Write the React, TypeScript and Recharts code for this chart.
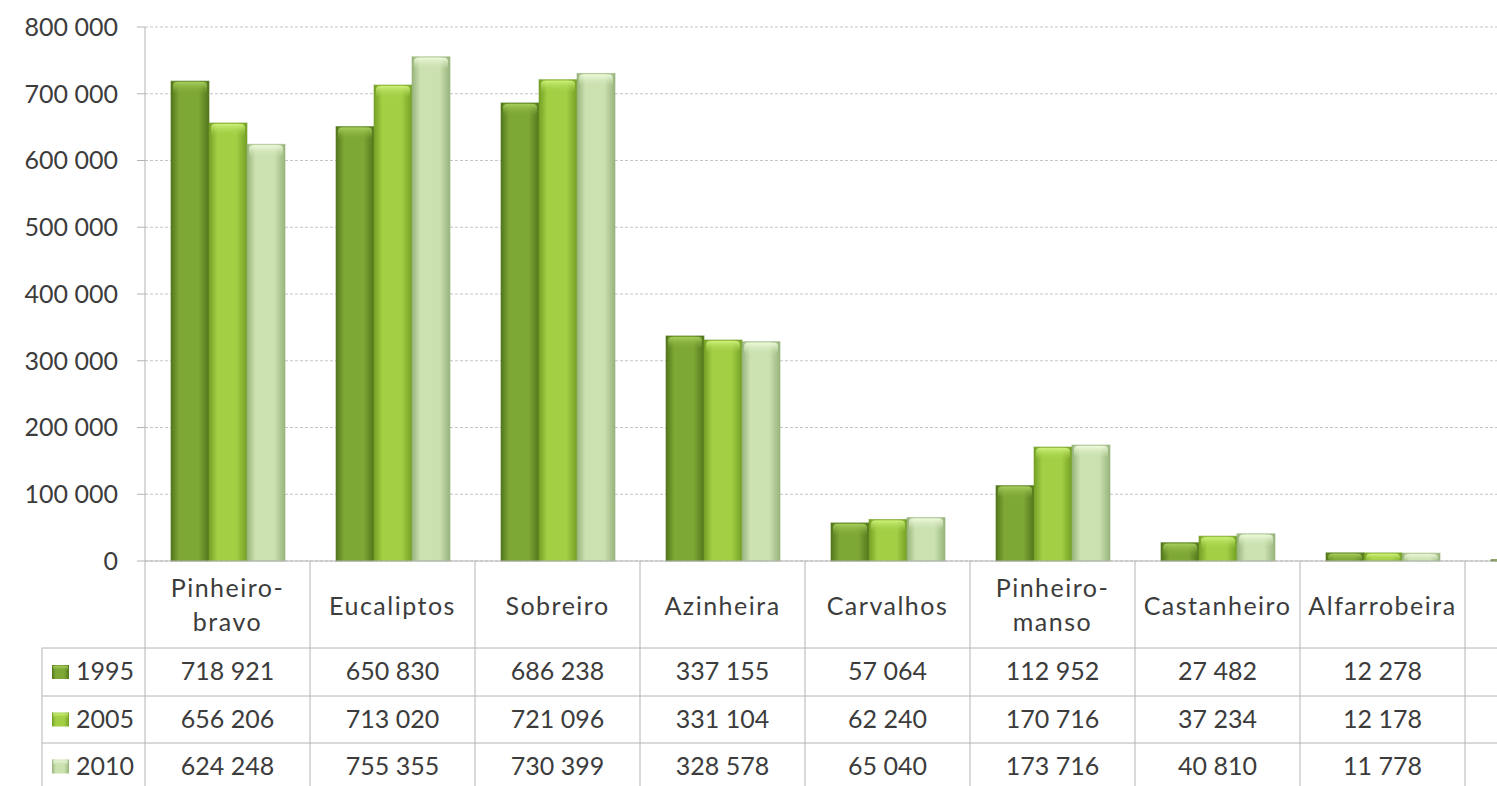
import { BarChart, Bar, XAxis, YAxis, CartesianGrid } from 'recharts'

const categories = ['Pinheiro-bravo', 'Eucaliptos', 'Sobreiro', 'Azinheira', 'Carvalhos', 'Pinheiro-manso', 'Castanheiro', 'Alfarrobeira', 'Acácias']
const years = ['1995', '2005', '2010']
const values1995 = [718921, 650830, 686238, 337155, 57064, 112952, 27482, 12278, 2000]
const values2005 = [656206, 713020, 721096, 331104, 62240, 170716, 37234, 12178, 4000]
const values2010 = [624248, 755355, 730399, 328578, 65040, 173716, 40810, 11778, 5000]
const yTicks = [0, 100000, 200000, 300000, 400000, 500000, 600000, 700000, 800000]

const seriesValues = [values1995, values2005, values2010]

const data = categories.map((name, i) => ({
  name,
  y1995: values1995[i],
  y2005: values2005[i],
  y2010: values2010[i],
}))

const FONT = 'Lato, "Open Sans", sans-serif'
const TEXT = '#3c3c3c'
const LINE = '#b4b4b4'
const COL = 165

// edge / middle colours of the 3 series
const palette = [
  { id: 'g1995', edge: '#52761c', mid: '#7ea836', top: '#a9cf5e' },
  { id: 'g2005', edge: '#74a026', mid: '#a2cf44', top: '#d0f27e' },
  { id: 'g2010', edge: '#98b47c', mid: '#cbe1b0', top: '#f0fbdf' },
]

const fmt = (v: number) => v.toLocaleString('en-US').replace(/,/g, ' ')

function Gradients() {
  return (
    <defs>
      {palette.map(p => (
        <linearGradient key={p.id} id={p.id} x1="0" y1="0" x2="1" y2="0">
          <stop offset="0%" stopColor={p.edge} />
          <stop offset="22%" stopColor={p.mid} />
          <stop offset="72%" stopColor={p.mid} />
          <stop offset="100%" stopColor={p.edge} />
        </linearGradient>
      ))}
      {palette.map(p => (
        <linearGradient key={p.id + 'c'} id={p.id + 'c'} x1="0" y1="0" x2="0" y2="1">
          <stop offset="0%" stopColor={p.top} stopOpacity={0.95} />
          <stop offset="100%" stopColor={p.mid} stopOpacity={0} />
        </linearGradient>
      ))}
    </defs>
  )
}

function makeShape(k: number) {
  return (props: any) => {
    const { x, y, width, height } = props
    if (!height || height <= 0) return <g />
    const cap = Math.min(12, height)
    return (
      <g>
        <rect x={x} y={y} width={width} height={height} fill={`url(#${palette[k].id})`} stroke={palette[k].edge} strokeOpacity={0.6} strokeWidth={1} />
        <rect x={x + 2} y={y + 1} width={width - 4} height={cap} rx={4} fill={`url(#${palette[k].id}c)`} />
      </g>
    )
  }
}

function TableTick(props: any) {
  const { x, y, index } = props
  const name: string = categories[index]
  const half = COL / 2
  const r1 = y + 87
  const r2 = y + 135
  const r3 = y + 182
  const r4 = y + 229
  const rows = [r1, r2, r3]
  const parts = name.includes('-') ? [name.split('-')[0] + '-', name.split('-')[1]] : [name]
  return (
    <g fontFamily={FONT} fill={TEXT}>
      {/* column borders */}
      {index === 0 && <line x1={x - half} x2={x - half} y1={y} y2={r4} stroke={LINE} />}
      <line x1={x + half} x2={x + half} y1={y} y2={r4} stroke={LINE} />
      {[r1, r2, r3].map(r => (
        <line key={r} x1={x - half} x2={x + half} y1={r} y2={r} stroke={LINE} />
      ))}
      {parts.length === 1 ? (
        <text x={x} y={y + 44} textAnchor="middle" dominantBaseline="central" fontSize={25} letterSpacing={1.5}>{parts[0]}</text>
      ) : (
        parts.map((p, j) => (
          <text key={j} x={x} y={y + 26 + j * 34} textAnchor="middle" dominantBaseline="central" fontSize={25} letterSpacing={1.5}>{p}</text>
        ))
      )}
      {seriesValues.map((vals, j) => (
        <text key={j} x={x} y={(rows[j] + (j < 2 ? rows[j + 1] : r4)) / 2 - 2} textAnchor="middle" dominantBaseline="central" fontSize={25}>
          {fmt(vals[index])}
        </text>
      ))}
      {/* legend column */}
      {index === 0 && (
        <g>
          <line x1={42} x2={x - half} y1={r1} y2={r1} stroke={LINE} />
          <line x1={42} x2={x - half} y1={r2} y2={r2} stroke={LINE} />
          <line x1={42} x2={x - half} y1={r3} y2={r3} stroke={LINE} />
          <line x1={42} x2={42} y1={r1} y2={r4} stroke={LINE} />
          {years.map((yr, j) => {
            const cy = (rows[j] + (j < 2 ? rows[j + 1] : r4)) / 2
            return (
              <g key={yr}>
                <rect x={52} y={cy - 7} width={17} height={14} fill={`url(#${palette[j].id})`} />
                <rect x={53} y={cy - 6} width={15} height={5} fill={`url(#${palette[j].id}c)`} />
                <text x={76} y={cy - 2} dominantBaseline="central" fontSize={25}>{yr}</text>
              </g>
            )
          })}
        </g>
      )}
    </g>
  )
}

export default function App() {
  return (
    <div style={{ position: 'absolute', left: 0, top: 0, width: 1497, height: 786, overflow: 'hidden', background: '#fff' }}>
      <BarChart
        width={1640}
        height={800}
        data={data}
        margin={{ top: 27, right: 10, left: 0, bottom: 0 }}
        barGap={0}
        barCategoryGap={26}
      >
        <Gradients />
        <CartesianGrid vertical={false} stroke="#c4c4c4" strokeDasharray="3 2" />
        <YAxis
          width={145}
          domain={[0, 800000]}
          ticks={yTicks}
          interval={0}
          tickFormatter={fmt}
          tickSize={8}
          tickMargin={19}
          stroke={LINE}
          tick={{ fill: TEXT, fontSize: 25, fontFamily: FONT }}
        />
        <XAxis
          dataKey="name"
          height={239}
          interval={0}
          tickSize={0}
          tickMargin={0}
          tickLine={false}
          stroke={LINE}
          tick={<TableTick />}
        />
        <Bar dataKey="y1995" isAnimationActive={false} shape={makeShape(0)} />
        <Bar dataKey="y2005" isAnimationActive={false} shape={makeShape(1)} />
        <Bar dataKey="y2010" isAnimationActive={false} shape={makeShape(2)} />
      </BarChart>
    </div>
  )
}
